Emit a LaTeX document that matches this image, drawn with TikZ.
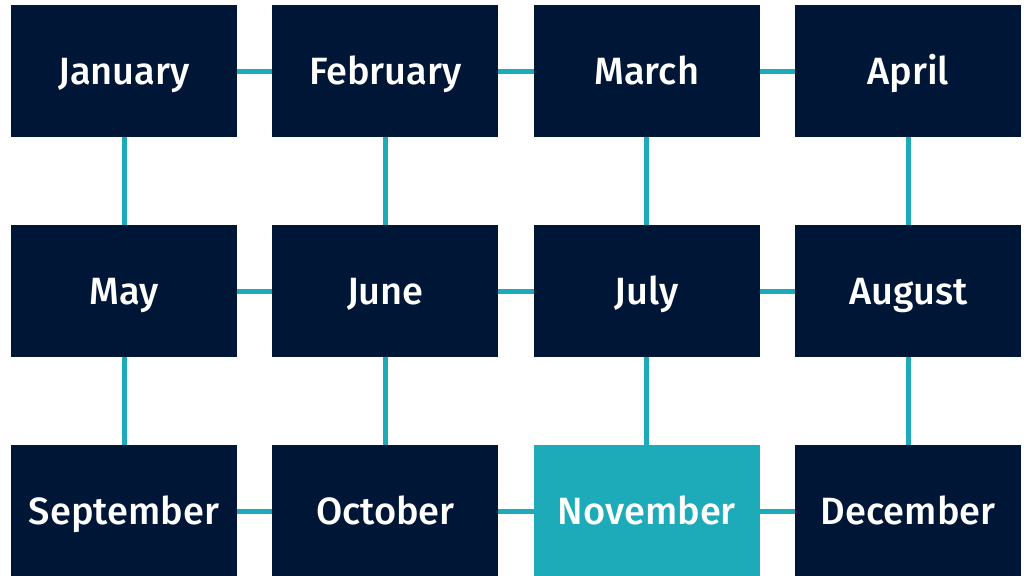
\documentclass[tikz,border=0pt]{standalone}
\usepackage{fontspec}
\setmainfont{Fira Sans}[UprightFont=* Medium]
\definecolor{navy}{HTML}{001637}
\definecolor{teal}{HTML}{1EABB9}
\begin{document}
\begin{tikzpicture}[x=1pt,y=-1pt,
  box/.style={fill=navy,text=white,minimum width=226pt,minimum height=132pt,inner sep=0pt,
    text height=26pt,text depth=0pt,font=\fontsize{38}{40}\selectfont},
  hot/.style={box,fill=teal},
  link/.style={draw=teal,line width=5pt}]
\useasboundingbox (0,0) rectangle (1029,576);
\foreach \n/\c/\r in {a/0/0,b/1/0,c/2/0,d/3/0,e/0/1,f/1/1,g/2/1,h/3/1,i/0/2,j/1/2,k/2/2,l/3/2}{
  \coordinate (p\n) at ({124+261.4*\c},{71+220*\r});
}
\draw[link] (pa) -- (pb) -- (pc) -- (pd);
\draw[link] (pe) -- (pf) -- (pg) -- (ph);
\draw[link] (pi) -- (pj) -- (pk) -- (pl);
\draw[link] (pa) -- (pe) -- (pi);
\draw[link] (pb) -- (pf) -- (pj);
\draw[link] (pc) -- (pg) -- (pk);
\draw[link] (pd) -- (ph) -- (pl);
\node[box] (a) at (pa) {January};
\node[box] (b) at (pb) {February};
\node[box] (c) at (pc) {March};
\node[box] (d) at (pd) {April};
\node[box] (e) at (pe) {May};
\node[box] (f) at (pf) {June};
\node[box] (g) at (pg) {July};
\node[box] (h) at (ph) {August};
\node[box] (i) at (pi) {September};
\node[box] (j) at (pj) {October};
\node[hot] (k) at (pk) {November};
\node[box] (l) at (pl) {December};
\end{tikzpicture}
\end{document}
